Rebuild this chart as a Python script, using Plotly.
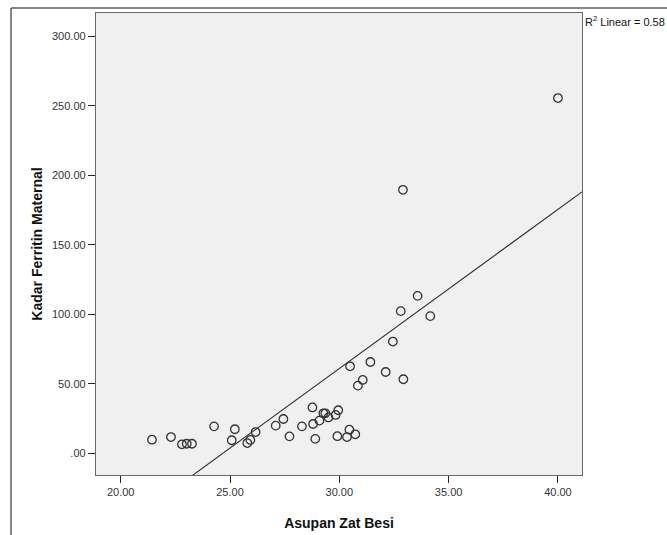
import plotly.graph_objects as go

# Asupan Zat Besi (x) and Kadar Ferritin Maternal (y)
asupan_zat_besi = [21.43, 22.30, 22.80, 23.02, 23.26, 24.27, 25.22, 25.08, 25.79, 25.93,
                   26.17, 27.09, 27.44, 27.72, 28.29, 28.77, 28.80, 28.90, 29.09, 29.27,
                   29.36, 29.50, 29.83, 29.95, 29.91, 30.35, 30.46, 30.73, 30.49, 30.85,
                   31.07, 31.42, 32.12, 32.45, 32.81, 32.91, 32.93, 33.58, 34.16, 40.00]
kadar_ferritin = [9.8, 11.7, 6.5, 6.9, 6.9, 19.4, 17.3, 9.4, 7.4, 9.6,
                  15.3, 19.9, 24.7, 12.2, 19.4, 33.0, 21.1, 10.4, 23.5, 28.8,
                  28.8, 25.8, 27.6, 31.0, 12.3, 11.7, 17.0, 13.7, 62.6, 48.7,
                  52.8, 65.7, 58.5, 80.4, 102.3, 189.6, 53.3, 113.3, 98.7, 255.6]

# Linear fit line as shown in the reference
fit_slope = 11.45
fit_intercept = -282.5
r2_linear = 0.58

x_tickvals = [20, 25, 30, 35, 40]
x_ticktext = ["20.00", "25.00", "30.00", "35.00", "40.00"]
y_tickvals = [0, 50, 100, 150, 200, 250, 300]
y_ticktext = [".00", "50.00", "100.00", "150.00", "200.00", "250.00", "300.00"]

x_range = [18.87, 41.1]
y_range = [-15.6, 316.8]

fit_x = list(x_range)
fit_y = [fit_slope * v + fit_intercept for v in fit_x]

FONT = "Liberation Sans, Arial, sans-serif"

fig = go.Figure()
fig.add_trace(go.Scatter(
    x=fit_x, y=fit_y, mode="lines",
    line=dict(color="#2a2a2a", width=1.1),
    hoverinfo="skip", showlegend=False,
))
fig.add_trace(go.Scatter(
    x=asupan_zat_besi, y=kadar_ferritin, mode="markers",
    marker=dict(symbol="circle-open", size=8.5, color="#333333",
                line=dict(color="#333333", width=1.3)),
    showlegend=False,
))

ml, mr, mt, mb = 96, 85, 13, 60
W, H = 667, 535
pw, ph = W - ml - mr, H - mt - mb

def px_to_paper_x(px):
    return (px - ml) / pw

def px_to_paper_y(py):
    return (H - mb - py) / ph

fig.update_layout(
    width=W, height=H,
    margin=dict(l=ml, r=mr, t=mt, b=mb, pad=0),
    paper_bgcolor="white",
    plot_bgcolor="#f0f0f0",
    font=dict(family=FONT, size=11, color="#222222"),
    xaxis=dict(
        range=x_range, tickvals=x_tickvals, ticktext=x_ticktext,
        showgrid=False, zeroline=False, automargin=False,
        ticks="outside", ticklen=7, tickcolor="#222222", tickwidth=1,
        showline=True, linecolor="#6a6a6a", linewidth=1.3, mirror=True,
        tickfont=dict(family=FONT, size=11, color="#333333"),
        title=dict(text="<b>Asupan Zat Besi</b>", standoff=20,
                   font=dict(family=FONT, size=14, color="#111111")),
    ),
    yaxis=dict(
        range=y_range, tickvals=y_tickvals, ticktext=y_ticktext,
        showgrid=False, zeroline=False, automargin=False,
        ticks="outside", ticklen=7, tickcolor="#222222", tickwidth=1,
        showline=True, linecolor="#6a6a6a", linewidth=1.3, mirror=True,
        tickfont=dict(family=FONT, size=11, color="#333333"),
        title=dict(text="<b>Kadar Ferritin Maternal</b>", standoff=6,
                   font=dict(family=FONT, size=14, color="#111111")),
    ),
    shapes=[dict(
        type="rect", xref="paper", yref="paper",
        x0=px_to_paper_x(11), x1=px_to_paper_x(700),
        y0=px_to_paper_y(560), y1=px_to_paper_y(8),
        line=dict(color="#111111", width=1), fillcolor="rgba(0,0,0,0)",
        layer="below",
    )],
    annotations=[dict(
        xref="paper", yref="paper", x=1.0, y=1.0,
        xanchor="left", yanchor="top", xshift=1, yshift=1,
        text=f"R<sup>2</sup> Linear = {r2_linear:.2f}",
        showarrow=False, font=dict(family=FONT, size=11, color="#111111"),
    )],
)

fig.write_html("out.html", config={"displayModeBar": False},
               post_script="document.body.style.margin='0px';")
